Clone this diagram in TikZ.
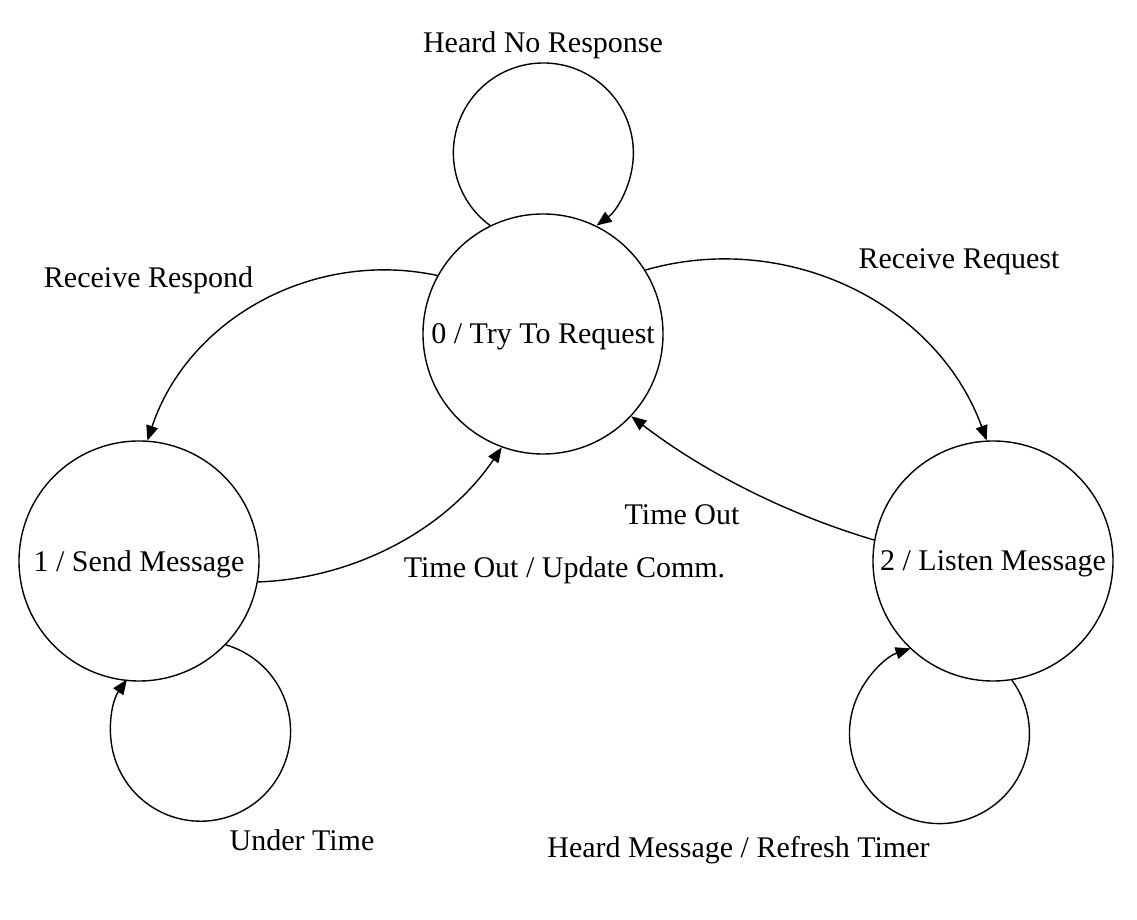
\documentclass[tikz,border=0pt]{standalone}
\usepackage{fontspec}
\setmainfont{Liberation Serif}
\usetikzlibrary{arrows.meta}
\begin{document}
\begin{tikzpicture}[x=1pt,y=1pt,
  state/.style={circle,draw,line width=1.4pt,minimum size=240pt,inner sep=0pt,text depth=0pt,font=\fontsize{30}{36}\selectfont},
  lbl/.style={anchor=base,inner sep=0pt,font=\fontsize{30}{36}\selectfont},
  edge/.style={line width=1.4pt,-{Triangle[length=15pt,width=12pt]}}]
\useasboundingbox (0,0) rectangle (1137,920);
\node[state] (n0) at (543,586) {0 / Try To Request};
\node[state] (n1) at (139,359) {1 / Send Message};
\node[state] (n2) at (993,359) {2 / Listen Message};
% labels
\node[lbl] (lhnr) at (543,867) {Heard No Response};
\node[lbl] (lrr) at (148.5,632) {Receive Respond};
\node[lbl] (lrq) at (959,651) {Receive Request};
\node[lbl] (lto) at (682,395) {Time Out};
\node[lbl] (ltu) at (564.5,342) {Time Out / Update Comm.};
\node[lbl] (lut) at (302,69) {Under Time};
\node[lbl] (lhm) at (738.5,62) {Heard Message / Refresh Timer};
% edges
\draw[edge] (n0.151.7) to[out=168,in=71.6,looseness=0.98] (n1.86.2);
\draw[edge] (n0.32.5) to[out=16,in=110,looseness=0.98] (n2.93.4);
\draw[edge] (n1.-10.9) to[out=2,in=236,looseness=0.9] (n0.250.2);
\draw[edge] (n2.170) to[out=163.4,in=322.6,looseness=0.86] (n0.-43);
% self loops
\draw[edge] (n0.116.4) arc[start angle=233.7,end angle=-53.7,radius=90];
\draw[edge] (n1.-44.8) arc[start angle=73.7,end angle=-215.1,radius=90];
\draw[edge] (n2.-81.1) arc[start angle=36.4,end angle=-251.3,radius=90];
\end{tikzpicture}
\end{document}
